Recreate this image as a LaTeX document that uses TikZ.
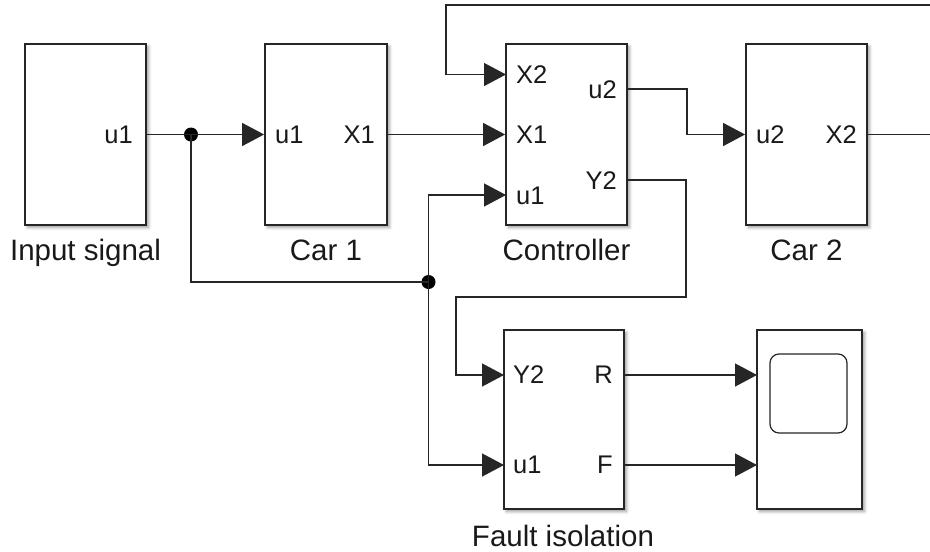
\documentclass[tikz,border=0pt]{standalone}
\usepackage{fontspec}
\setmainfont{Liberation Sans}
\usetikzlibrary{arrows.meta,shadows.blur}
\begin{document}
\begin{tikzpicture}[x=1pt,y=-1pt,
  blockbox/.style={draw=black!85, line width=1.8pt, fill=white, inner sep=0pt,
    blur shadow={shadow xshift=2.5pt, shadow yshift=-2.5pt, shadow blur radius=3pt, shadow opacity=40}},
  portlbl/.style={font=\fontsize{25.5}{30}\selectfont, inner sep=0pt, text=black!90},
  captionlbl/.style={font=\fontsize{29.5}{34}\selectfont, inner sep=0pt, anchor=base, text=black!90},
  wire/.style={line width=1.3pt, draw=black!85},
  arr/.style={wire, -{Triangle[length=22pt, width=23pt]}},
  jdot/.style={circle, fill=black, inner sep=0pt, minimum size=14pt}]
\useasboundingbox (0,0) rectangle (930,552);
\clip (0,0) rectangle (930,552);
% blocks
\node[blockbox, minimum width=121pt, minimum height=181pt] (inp) at (85.5,134.5) {};
\node[blockbox, minimum width=122pt, minimum height=181pt] (car1) at (326,134.5) {};
\node[blockbox, minimum width=121pt, minimum height=181pt] (ctrl) at (566.5,134.5) {};
\node[blockbox, minimum width=121pt, minimum height=181pt] (car2) at (806.5,134.5) {};
\node[blockbox, minimum width=120pt, minimum height=179pt] (fault) at (564,419.5) {};
\node[blockbox, minimum width=105pt, minimum height=179pt] (scope) at (809.5,419.5) {};
\node[draw=black!85, line width=1.2pt, rounded corners=9pt, minimum width=77pt, minimum height=79pt, inner sep=0pt] (screen) at (808.5,393.5) {};
% port labels
\node[portlbl, anchor=base east] (inpu1) at (133,143.5) {u1};
\node[portlbl, anchor=base west] (c1u1) at (275,143.5) {u1};
\node[portlbl, anchor=base east] (c1x1) at (375,143.5) {X1};
\node[portlbl, anchor=base west] (ctx2) at (516,83.5) {X2};
\node[portlbl, anchor=base west] (ctx1) at (516,143.5) {X1};
\node[portlbl, anchor=base west] (ctu1) at (516,204) {u1};
\node[portlbl, anchor=base east] (ctu2) at (617,98) {u2};
\node[portlbl, anchor=base east] (cty2) at (617,189) {Y2};
\node[portlbl, anchor=base west] (c2u2) at (756,143.5) {u2};
\node[portlbl, anchor=base east] (c2x2) at (857,143.5) {X2};
\node[portlbl, anchor=base west] (fy2) at (513,383.5) {Y2};
\node[portlbl, anchor=base east] (fr) at (613,383.5) {R};
\node[portlbl, anchor=base west] (fu1) at (513,473.5) {u1};
\node[portlbl, anchor=base east] (ff) at (613,473.5) {F};
% captions
\node[captionlbl] (capinp) at (85.5,260) {Input signal};
\node[captionlbl] (capc1) at (326,260) {Car 1};
\node[captionlbl] (capct) at (566.5,260) {Controller};
\node[captionlbl] (capc2) at (806.5,260) {Car 2};
\node[captionlbl] (capf) at (563,546) {Fault isolation};
% port coordinates
\coordinate (ctrlX2) at (506,74.5);
\coordinate (ctrlU1) at (506,195);
\coordinate (ctrlU2) at (627,89);
\coordinate (ctrlY2) at (627,180);
\coordinate (fltY2) at (504,375);
\coordinate (fltU1) at (504,465);
\coordinate (fltR) at (624,375);
\coordinate (fltF) at (624,465);
\coordinate (scR) at (757,375);
\coordinate (scF) at (757,465);
\coordinate (offR) at (945,134.5);
% junctions
\node[jdot] (j1) at (191,134.5) {};
\node[jdot] (j2) at (428.5,282) {};
% wires
\draw[arr] (inp.east) -- (j1.center) -- (car1.west);
\draw[wire] (j1.center) |- (j2.center);
\draw[arr] (j2.center) |- (ctrlU1);
\draw[arr] (j2.center) |- (fltU1);
\draw[arr] (car1.east) -- (ctrl.west);
\draw[arr] (ctrlU2) -- (687,89) |- (car2.west);
\draw[arr] (car2.east) -- (offR) |- (446,5) |- (ctrlX2);
\draw[arr] (ctrlY2) -- (686,180) |- (456,297) |- (fltY2);
\draw[arr] (fltR) -- (scR);
\draw[arr] (fltF) -- (scF);
\end{tikzpicture}
\end{document}
